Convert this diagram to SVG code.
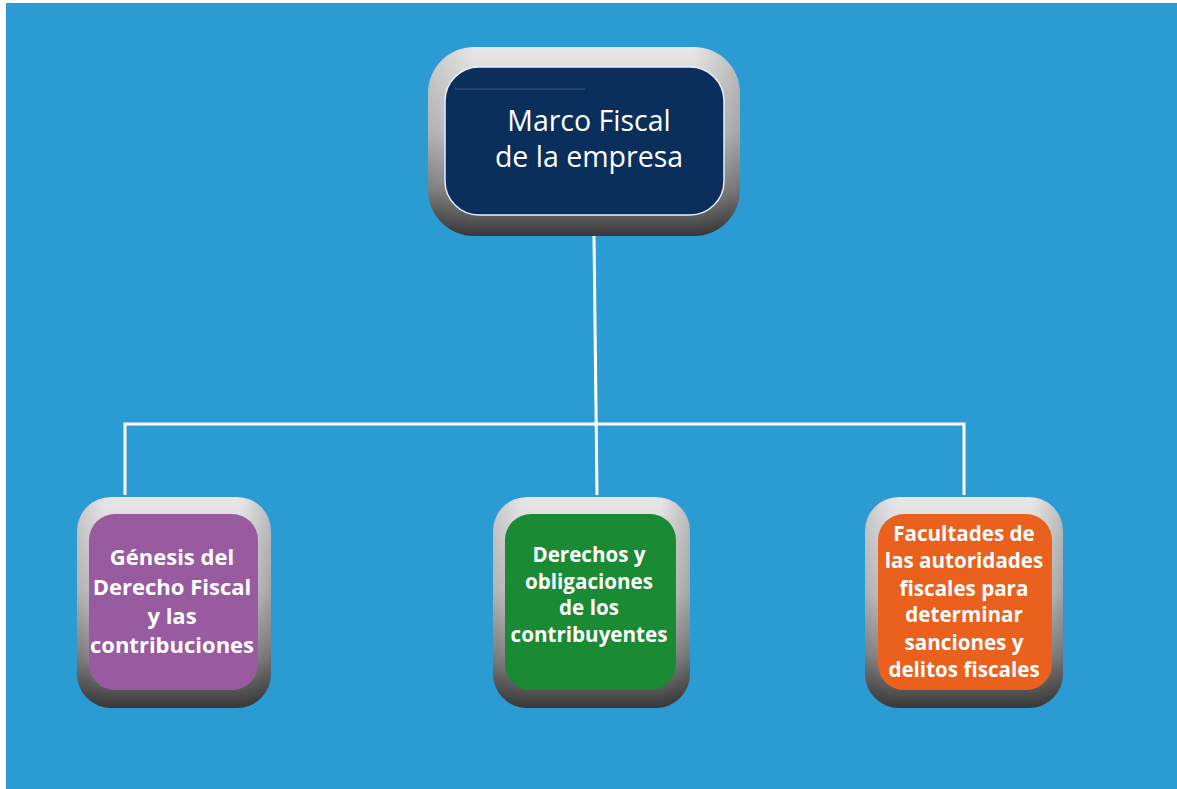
<svg xmlns="http://www.w3.org/2000/svg" width="1177" height="789" viewBox="0 0 1177 789">
<style>
.t{fill:#ffffff;font-family:"Open Sans","Liberation Sans",sans-serif;text-anchor:middle}
.big{font-size:28.5px}
.sm{font-size:20.6px;font-weight:700}
.conn{stroke:#ffffff;stroke-width:3;fill:none}
.inner{stroke:#e8eef5;stroke-width:1.5}
</style>
<defs>
<linearGradient id="bezel" x1="0" y1="0" x2="0" y2="1">
<stop offset="0" stop-color="#e6e6e6"/>
<stop offset="0.45" stop-color="#c9c9c9"/>
<stop offset="0.75" stop-color="#8f8f8f"/>
<stop offset="1" stop-color="#383838"/>
</linearGradient>
<linearGradient id="side" x1="0" y1="0" x2="1" y2="0">
<stop offset="0" stop-color="#000" stop-opacity="0.12"/>
<stop offset="0.15" stop-color="#000" stop-opacity="0"/>
<stop offset="0.85" stop-color="#000" stop-opacity="0"/>
<stop offset="1" stop-color="#000" stop-opacity="0.18"/>
</linearGradient>
</defs>
<rect x="0" y="0" width="1177" height="789" fill="#ffffff"/>
<rect x="6" y="3" width="1171" height="786" fill="#2b9bd3"/>
<g id="connectors">
<path class="conn" d="M594 236 L597 495"/>
<path class="conn" d="M125 495 L125 424 L964 424 L964 495"/>
</g>
<g id="node-top">
<rect x="428" y="47" width="312" height="189" rx="46" fill="url(#bezel)"/>
<rect x="428" y="47" width="312" height="189" rx="46" fill="url(#side)"/>
<rect x="445" y="67" width="279" height="148" rx="34" fill="#0b2f5d" class="inner"/>
<line x1="455" y1="89" x2="585" y2="89" stroke="#5c7aa0" stroke-width="1" opacity="0.6"/>
<text class="t big" x="589" y="131">Marco Fiscal</text>
<text class="t big" x="589" y="167">de la empresa</text>
</g>
<g id="node-left">
<rect x="77" y="497" width="194" height="211" rx="34" fill="url(#bezel)"/>
<rect x="77" y="497" width="194" height="211" rx="34" fill="url(#side)"/>
<rect x="89" y="514" width="169" height="176" rx="26" fill="#985ba0"/>
<text class="t sm" x="172" y="565" style="font-size:22px">Génesis del</text>
<text class="t sm" x="172" y="595" style="font-size:22px">Derecho Fiscal</text>
<text class="t sm" x="172" y="624" style="font-size:22px">y las</text>
<text class="t sm" x="172" y="653" style="font-size:22px">contribuciones</text>
</g>
<g id="node-middle">
<rect x="493" y="497" width="197" height="211" rx="34" fill="url(#bezel)"/>
<rect x="493" y="497" width="197" height="211" rx="34" fill="url(#side)"/>
<rect x="505" y="514" width="171" height="176" rx="26" fill="#1b8a34"/>
<text class="t sm" x="589" y="562">Derechos y</text>
<text class="t sm" x="589" y="589">obligaciones</text>
<text class="t sm" x="589" y="615">de los</text>
<text class="t sm" x="589" y="642">contribuyentes</text>
</g>
<g id="node-right">
<rect x="865" y="497" width="198" height="211" rx="34" fill="url(#bezel)"/>
<rect x="865" y="497" width="198" height="211" rx="34" fill="url(#side)"/>
<rect x="878" y="514" width="174" height="176" rx="26" fill="#e9611d"/>
<text class="t sm" x="964" y="541">Facultades de</text>
<text class="t sm" x="964" y="568">las autoridades</text>
<text class="t sm" x="964" y="596">fiscales para</text>
<text class="t sm" x="964" y="622">determinar</text>
<text class="t sm" x="964" y="650">sanciones y</text>
<text class="t sm" x="964" y="677">delitos fiscales</text>
</g>
</svg>
